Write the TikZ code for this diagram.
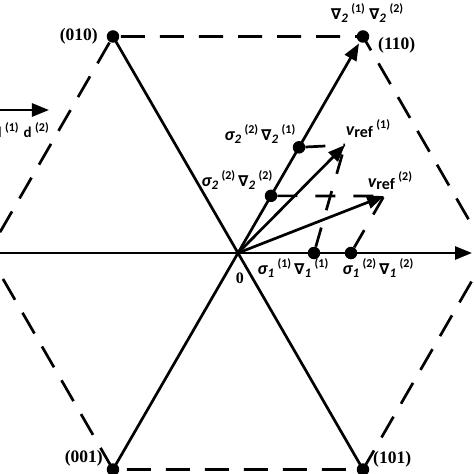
\documentclass[tikz,border=0pt]{standalone}
\usepackage{fontspec}
\setmainfont{Liberation Serif}
\newfontfamily\labfont{Carlito}
\newfontfamily\nabfont{DejaVu Sans}
\usetikzlibrary{arrows.meta}

\begin{document}
\begin{tikzpicture}[x=1pt, y=1pt,
    linie/.style={line width=2.7pt},
    pfeil/.style={linie, -{Triangle[length=17pt, width=13pt]}},
    rand/.style={linie, dash pattern=on 24pt off 15pt},
    hilfe/.style={linie, dash pattern=on 20pt off 18pt},
    punkt/.style={circle, fill=black, inner sep=0pt, minimum size=12.5pt},
    lab/.style={inner sep=0pt, font=\labfont\bfseries\fontsize{18}{21}\selectfont},
    ecke/.style={inner sep=0pt, font=\bfseries\fontsize{17.5}{20}\selectfont},
  ]
  % Index unten, Stufe oben: \tief{1}, \hoch{1}
  \newcommand{\tief}[1]{\raisebox{-3pt}{\fontsize{13}{13}\selectfont\itshape #1}}
  \newcommand{\hoch}[1]{\hspace{3.5pt}\raisebox{6.5pt}{\fontsize{12}{12}\selectfont(#1)}}
  \newcommand{\nabl}[2]{{\nabfont\itshape\fontsize{15}{15}\selectfont ∇}\tief{#1}\hoch{#2}}
  % Schaltzeit: \sgnb{Achse}{Stufe sigma}{Stufe nabla}
  \newcommand{\sgnb}[3]{{\itshape σ}\tief{#1}\hoch{#2}\,\nabl{#1}{#3}}
  \newcommand{\vektor}[1]{{\itshape v}\raisebox{-2.5pt}{\fontsize{16}{16}\selectfont ref}\hoch{#1}}

  \useasboundingbox (-238,-221) rectangle (236,253);

  % ---------------- Sechseck und Achsen -----------------------------
  \coordinate (O) at (0,0);
  \foreach \w/\n in {0/100, 60/110, 120/010, 180/011, 240/001, 300/101}
    \coordinate (e\n) at (\w:250);
  \coordinate (xl) at (-240,0);
  \coordinate (xr) at (234,0);
  \draw[rand] (e100) -- (e110) -- (e010) -- (e011) -- (e001) -- (e101) -- cycle;
  \draw[linie] (e010) -- (e101);
  \draw[pfeil, shorten >=8pt] (e001) -- (e110);
  \draw[pfeil] (xl) -- (xr);

  % ---------------- Zerlegung der Referenzvektoren ------------------
  \node[punkt] (a1) at (76,0) {};
  \node[punkt] (a2) at (113,0) {};
  \node[punkt] (b1) at (60:122) {};
  \node[punkt] (b2) at (60:66) {};
  \coordinate (v1) at (107,108);
  \coordinate (v2) at (146,57);
  \draw[hilfe] (b1) -- (v1);
  \draw[hilfe] (a1) -- (v1);
  \draw[hilfe] (b2) -- (v2);
  \draw[hilfe] (a2) -- (v2);
  \draw[pfeil] (O) -- (v1);
  \draw[pfeil] (O) -- (v2);

  % Ecken
  \foreach \n in {110, 010, 001, 101} \node[punkt] (p\n) at (e\n) {};

  % Pfeil links oben
  \coordinate (dl) at (-240,143);
  \coordinate (dr) at (-189,143);
  \draw[pfeil] (dl) -- (dr);

  % ---------------- Beschriftung ------------------------------------
  \node[ecke, anchor=east] (l010) at (-140,217) {(010)};
  \node[ecke, anchor=west] (l110) at (140,208) {(110)};
  \node[ecke, anchor=east] (l001) at (-135,-205) {(001)};
  \node[ecke, anchor=west] (l101) at (135,-206) {(101)};
  \node[ecke, font=\bfseries\fontsize{16}{18}\selectfont] (l0) at (2,-25) {0};
  \node[lab] (lb1) at (22,119) {\sgnb{2}{2}{1}};
  \node[lab] (lb2) at (-1,73) {\sgnb{2}{2}{2}};
  \node[lab] (la1) at (55,-15) {\sgnb{1}{1}{1}};
  \node[lab] (la2) at (140,-15) {\sgnb{1}{2}{2}};
  \node[lab] (lv1) at (130,124) {\vektor{1}};
  \node[lab] (lv2) at (152,72) {\vektor{2}};
  \node[lab] (lt) at (129,240) {\nabl{2}{1}\ \nabl{2}{2}};
  \node[lab, anchor=base east, font=\labfont\bfseries\fontsize{15}{18}\selectfont]
    (ld) at (-189,115) {d\hoch{1}\hspace{5pt}d\hoch{2}};
\end{tikzpicture}
\end{document}
